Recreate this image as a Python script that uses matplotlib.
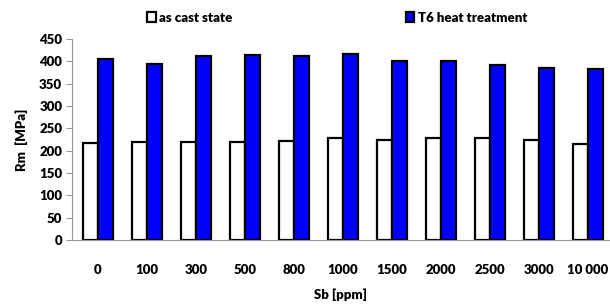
import numpy as np
import matplotlib
matplotlib.use("Agg")
import matplotlib.pyplot as plt

# Sb content groups
sb_labels = ["0", "100", "300", "500", "800", "1000", "1500", "2000", "2500", "3000", "10 000"]

# tensile strength Rm [MPa]
rm_as_cast = [217, 220, 220, 220, 222, 228, 224, 228, 228, 223, 215]
rm_t6 = [404, 395, 411, 415, 411, 417, 400, 400, 392, 386, 383]

y_ticks = [0, 50, 100, 150, 200, 250, 300, 350, 400, 450]

plt.rcParams['font.family'] = ['Lato', 'DejaVu Sans']
plt.rcParams['font.weight'] = 'heavy'

fs = 9.5

fig = plt.figure(figsize=(6.1, 3.04), dpi=100)
ax = fig.add_axes([0.118, 0.21, 0.882, 0.662])

x = np.arange(len(sb_labels))
w = 0.3
ax.bar(x - w / 2, rm_as_cast, w, color='white', edgecolor='black', linewidth=1.6, label='as cast state')
ax.bar(x + w / 2, rm_t6, w, color='#0000ff', edgecolor='black', linewidth=1.6, label='T6 heat treatment')

ax.set_xlim(-0.53, 10.45)
ax.set_ylim(0, 450)
ax.set_yticks(y_ticks)
ax.set_xticks(x)
ax.set_xticklabels(sb_labels)

for s in ['top', 'right']:
    ax.spines[s].set_visible(False)
ax.spines['left'].set_color('#999999')
ax.spines['bottom'].set_color('#999999')

ax.tick_params(axis='y', length=4, color='#999999', labelsize=fs, pad=3)
ax.tick_params(axis='x', length=0, labelsize=fs, pad=17)

ax.set_ylabel('Rm  [MPa]', fontsize=fs, fontweight='heavy', labelpad=8)
ax.set_xlabel('Sb [ppm]', fontsize=fs, fontweight='heavy', labelpad=9)

fig.legend(loc='upper center', bbox_to_anchor=(0.553, 1.0), ncol=2, frameon=False,
           fontsize=fs, handlelength=0.65, handleheight=0.8, handletextpad=0.3,
           columnspacing=13.1)

fig.savefig('out.png', dpi=100)
